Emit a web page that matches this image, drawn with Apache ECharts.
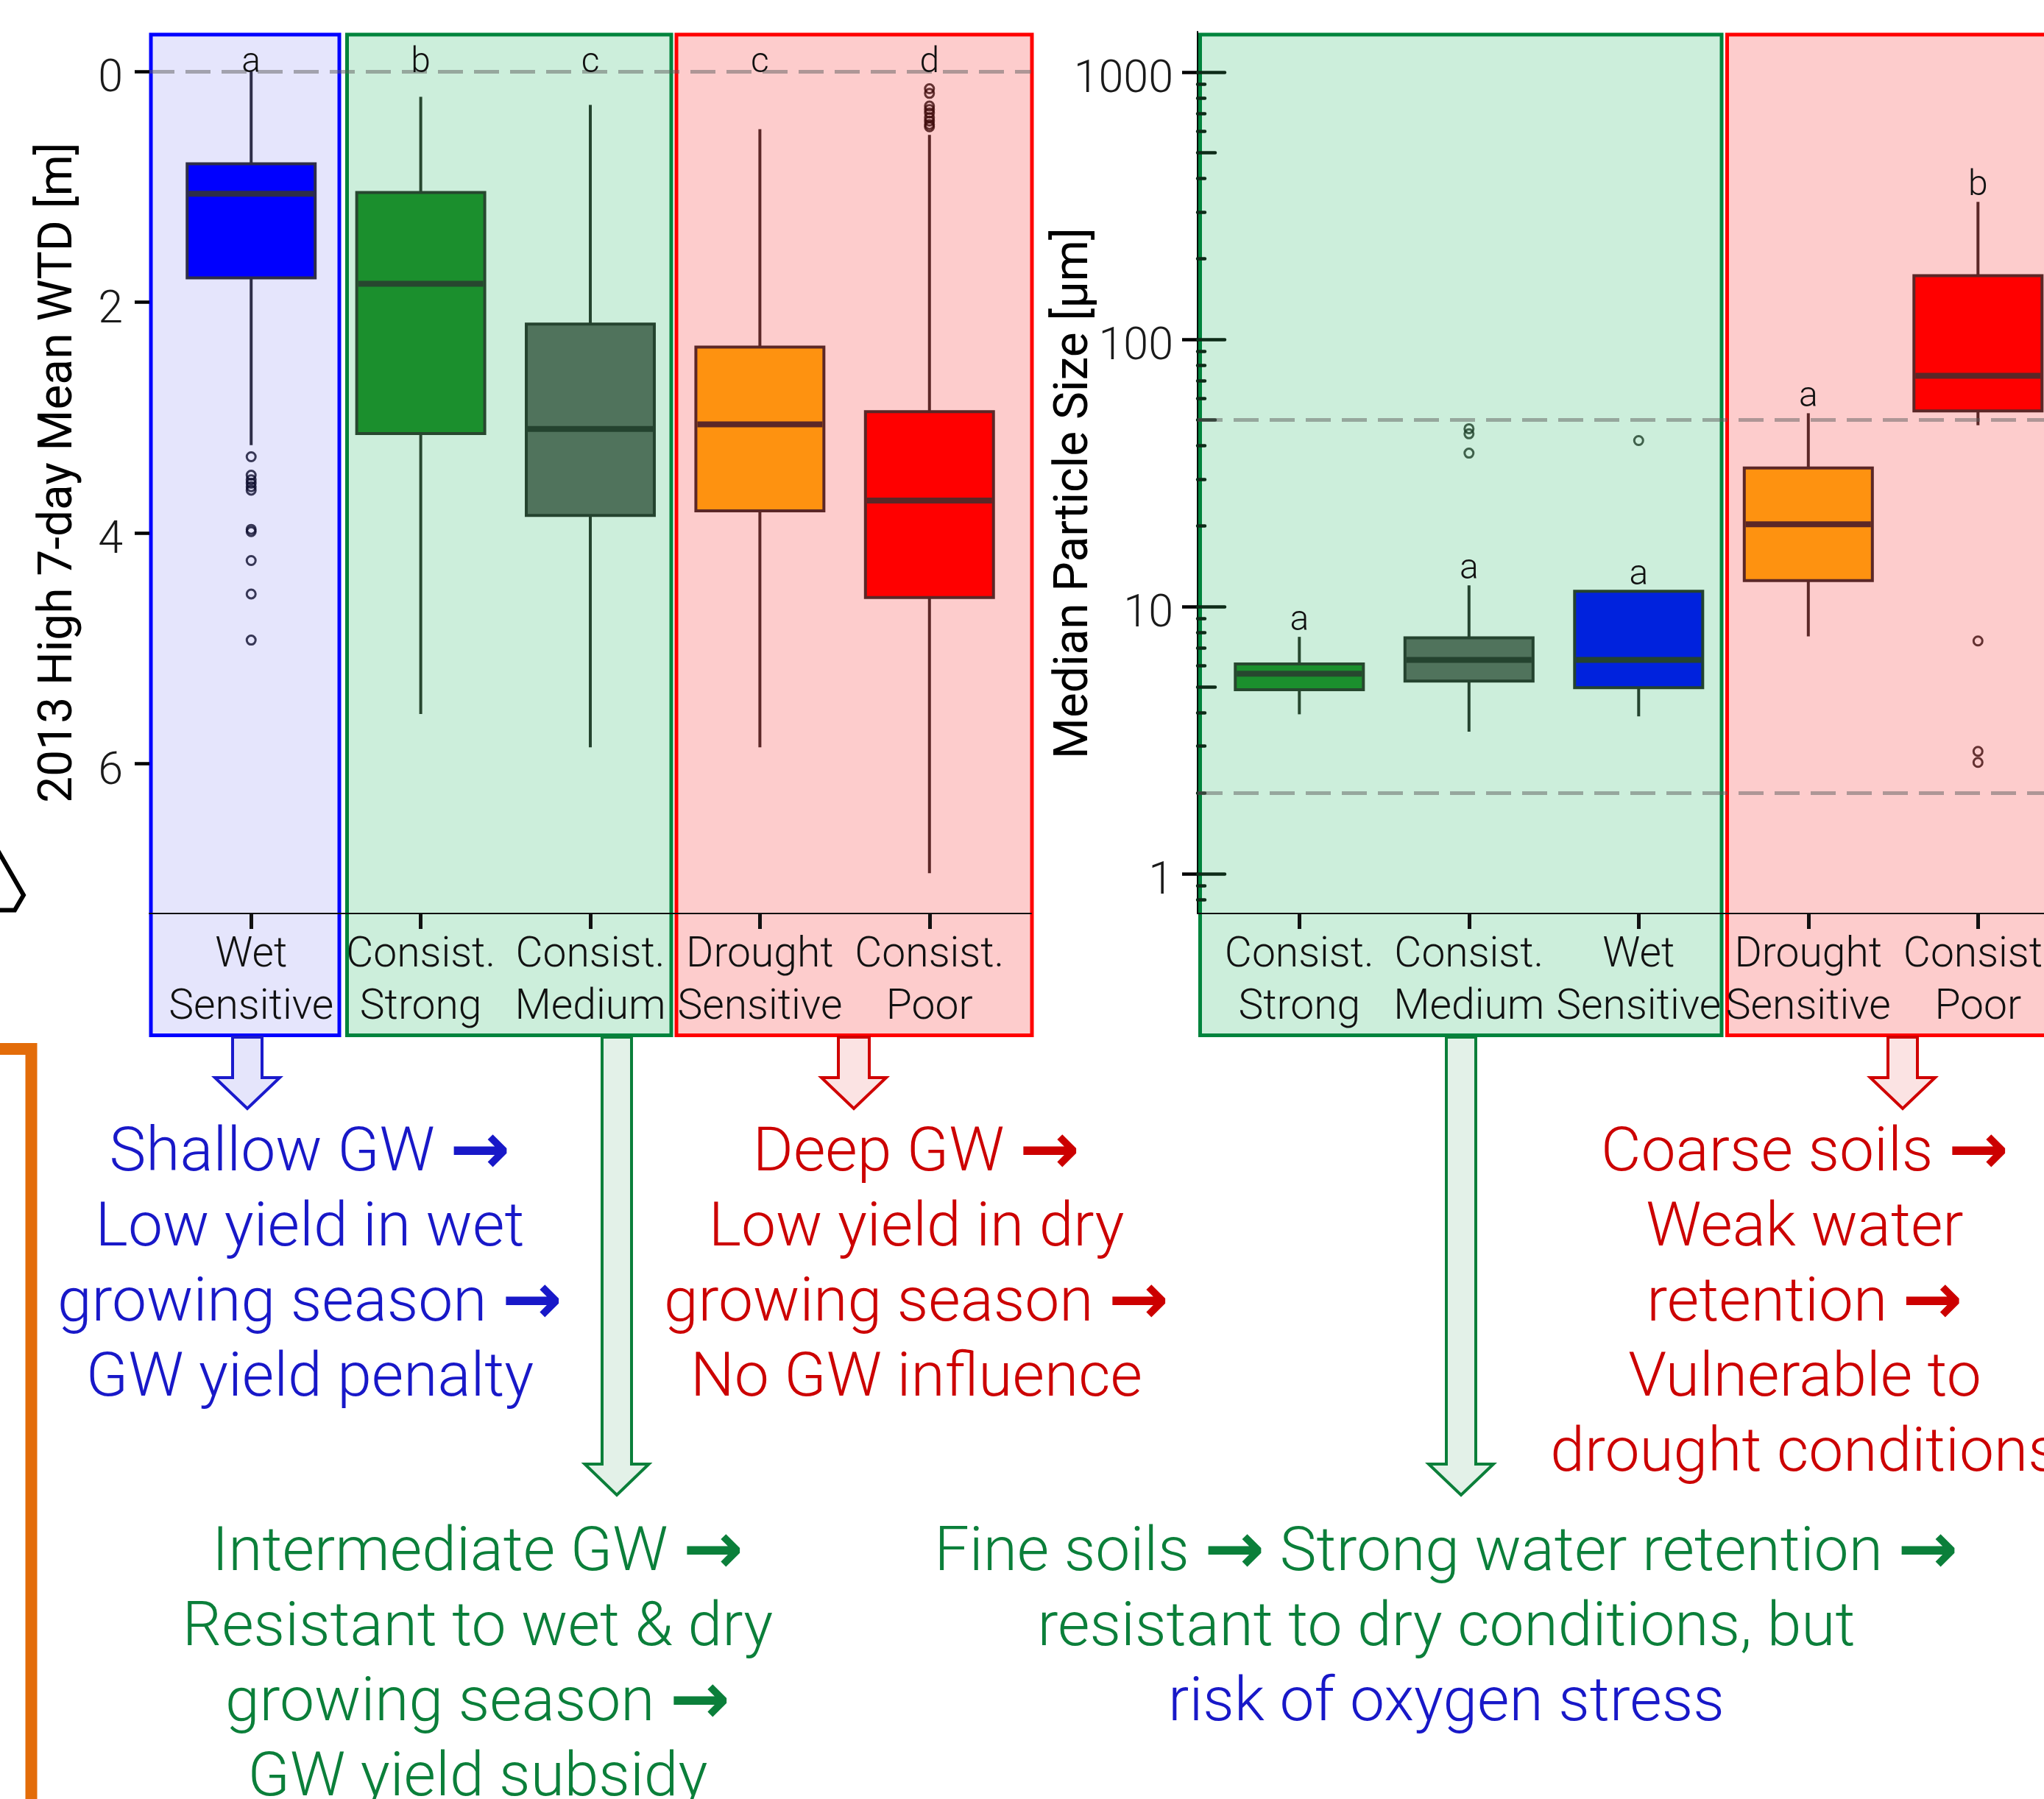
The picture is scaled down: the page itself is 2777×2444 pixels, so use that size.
<!DOCTYPE html>
<html>
<head>
<meta charset="utf-8">
<script src="https://cdn.jsdelivr.net/npm/echarts@6/dist/echarts.min.js"></script>
<style>
html,body{margin:0;padding:0;background:#fff;}
#chart{width:2777px;height:2444px;}
</style>
</head>
<body>
<div id="chart"></div>
<script>
// ---------------- DATA ----------------
// Left panel: 2013 High 7-day Mean WTD [m]
const wtdCategories = ['Wet\nSensitive', 'Consist.\nStrong', 'Consist.\nMedium', 'Drought\nSensitive', 'Consist.\nPoor'];
const wtdLow    = [0.00, 0.22, 0.29, 0.50, 0.55];
const wtdQ1     = [0.80, 1.05, 2.19, 2.39, 2.95];
const wtdMedian = [1.06, 1.84, 3.10, 3.06, 3.72];
const wtdQ3     = [1.79, 3.14, 3.85, 3.81, 4.56];
const wtdHigh   = [3.24, 5.57, 5.86, 5.86, 6.95];
const wtdOutliersWet  = [3.34, 3.50, 3.54, 3.57, 3.60, 3.63, 3.97, 3.99, 4.24, 4.53, 4.93];
const wtdOutliersPoor = [0.15, 0.19, 0.30, 0.33, 0.36, 0.40, 0.43, 0.46, 0.48];
const wtdLetters = ['a', 'b', 'c', 'c', 'd'];
const wtdTicks = [0, 2, 4, 6];
const wtdReference = [0];

// Right panel: Median Particle Size [µm]
const psCategories = ['Consist.\nStrong', 'Consist.\nMedium', 'Wet\nSensitive', 'Drought\nSensitive', 'Consist.\nPoor'];
const psLow    = [3.95, 3.40, 3.88, 7.73, 47.7];
const psQ1     = [4.88, 5.26, 4.97, 12.5, 54.0];
const psMedian = [5.60, 6.31, 6.31, 20.3, 73.0];
const psQ3     = [6.10, 7.64, 11.4, 33.0, 173];
const psHigh   = [7.70, 12.0, 11.4, 52.9, 327];
const psOutliersMedium = [46.3, 44.3, 37.5];
const psOutliersWet    = [41.8];
const psOutliersPoor   = [7.43, 2.87, 2.61];
const psLetters = ['a', 'a', 'a', 'a', 'b'];
const psTicks = [1, 10, 100, 1000];
const psMidTicks = [5, 50, 500];
const psMinorTicks = [0.8, 0.9, 2, 3, 4, 6, 7, 8, 9, 20, 30, 40, 60, 70, 80, 90, 200, 300, 400, 600, 700, 800, 900];
const psReference = [50, 2];

// ---------------- STYLE ----------------
const wtdFill = ['#0000ff', '#1b8f2d', '#50735c', '#fe9210', '#ff0000'];
const wtdLine = ['#2e2e48', '#27472f', '#24432f', '#5b2727', '#5b2727'];
const psFill  = ['#1b8f2d', '#50735c', '#0022dd', '#fe9210', '#ff0000'];
const psLine  = ['#27472f', '#24432f', '#24432f', '#5b2727', '#5b2727'];
const FONT = 'Roboto';
const BLUE_T = '#1818c8', RED_T = '#cc0000', GREEN_T = '#0b7f3a';

function boxData(low, q1, med, q3, high) {
  return low.map((v, i) => [i + 1, low[i], q1[i], med[i], q3[i], high[i]]);
}
function boxRenderer(fills, lines) {
  return function (params, api) {
    const x = api.value(0);
    const i = params.dataIndex;
    const pLow = api.coord([x, api.value(1)]);
    const pQ1 = api.coord([x, api.value(2)]);
    const pMed = api.coord([x, api.value(3)]);
    const pQ3 = api.coord([x, api.value(4)]);
    const pHigh = api.coord([x, api.value(5)]);
    const w = api.size([0.755, 0], [x, 1])[0];
    const cx = pMed[0];
    const yTop = Math.min(pQ1[1], pQ3[1]);
    const yBot = Math.max(pQ1[1], pQ3[1]);
    return {
      type: 'group',
      children: [
        { type: 'line', shape: { x1: cx, y1: pLow[1], x2: cx, y2: pQ1[1] }, style: { stroke: lines[i], lineWidth: 4 } },
        { type: 'line', shape: { x1: cx, y1: pQ3[1], x2: cx, y2: pHigh[1] }, style: { stroke: lines[i], lineWidth: 4 } },
        { type: 'rect', shape: { x: cx - w / 2, y: yTop, width: w, height: yBot - yTop }, style: { fill: fills[i], stroke: lines[i], lineWidth: 4 } },
        { type: 'line', shape: { x1: cx - w / 2 + 2, y1: pMed[1], x2: cx + w / 2 - 2, y2: pMed[1] }, style: { stroke: lines[i], lineWidth: 8 } }
      ]
    };
  };
}
function letterRenderer(letters, dy) {
  return function (params, api) {
    const p = api.coord([api.value(0), api.value(1)]);
    return {
      type: 'text', x: p[0], y: p[1] + dy,
      style: { text: letters[params.dataIndex], fill: '#111', font: '300 48px ' + FONT, align: 'center', verticalAlign: 'bottom' }
    };
  };
}
function outlierSeries(xi, yi, catIndex, values, color) {
  return {
    type: 'scatter', xAxisIndex: xi, yAxisIndex: yi, z: 4,
    symbol: 'circle', symbolSize: 12,
    itemStyle: { color: 'rgba(0,0,0,0)', borderColor: color, borderWidth: 3 },
    data: values.map(v => [catIndex, v])
  };
}
function refLineSeries(xi, yi, values) {
  return {
    type: 'line', xAxisIndex: xi, yAxisIndex: yi, z: 1, data: [], silent: true,
    markLine: {
      silent: true, symbol: ['none', 'none'], label: { show: false },
      lineStyle: { color: 'rgba(95,95,95,0.5)', width: 5, type: [34, 15] },
      data: values.map(v => ({ yAxis: v }))
    }
  };
}
function xAxisDef(grid, cats) {
  return {
    gridIndex: grid, type: 'value', min: 0.4, max: 5.6,
    axisLine: { onZero: false, lineStyle: { color: '#111', width: 2 } },
    axisTick: { customValues: [1, 2, 3, 4, 5], length: 21, lineStyle: { color: '#111', width: 5 } },
    axisLabel: {
      customValues: [1, 2, 3, 4, 5], formatter: v => cats[Math.round(v) - 1],
      fontFamily: FONT, fontWeight: 300, fontSize: 57, lineHeight: 71, color: '#111', margin: 22
    },
    splitLine: { show: false }
  };
}
function logTickAxis(values, len, inside, color) {
  return {
    gridIndex: 1, type: 'log', min: 0.7096, max: 1418, position: 'left',
    axisLine: { show: false, onZero: false },
    axisTick: { customValues: values, inside: inside, length: len, lineStyle: { color: color, width: 4.5, cap: 'round' } },
    axisLabel: { show: false }, splitLine: { show: false }
  };
}
function downArrow(cx, sHalf, hHalf, yTop, headTop, tip, fill, stroke) {
  return {
    type: 'polygon', z: 10,
    shape: { points: [[cx - sHalf, yTop], [cx + sHalf, yTop], [cx + sHalf, headTop], [cx + hHalf, headTop], [cx, tip], [cx - hHalf, headTop], [cx - sHalf, headTop]] },
    style: { fill: fill, stroke: stroke, lineWidth: 4, lineJoin: 'miter' }
  };
}
function panel(x1, x2, fill, stroke) {
  return { type: 'rect', z: -5, shape: { x: x1, y: 47, width: x2 - x1, height: 1359.5 }, style: { fill: fill, stroke: stroke, lineWidth: 5 } };
}
function textBlock(cx, top, text, color) {
  return {
    type: 'text', z: 10, x: cx, y: top,
    style: {
      text: text, fill: color, fontFamily: FONT, fontWeight: 300, fontSize: 84, lineHeight: 102,
      align: 'center', verticalAlign: 'top',
      rich: {
        a: { fill: color, fontFamily: 'Roboto, DejaVu Sans', fontWeight: 700, fontSize: 98, lineHeight: 102 },
        b: { fill: BLUE_T, fontFamily: FONT, fontWeight: 300, fontSize: 84, lineHeight: 102 }
      }
    }
  };
}
const yLabelStyle = { fontFamily: FONT, fontWeight: 300, fontSize: 61, color: '#1a1a1a', verticalAlign: 'top', lineHeight: 24 };

const chart = echarts.init(document.getElementById('chart'), null, { renderer: 'canvas' });

const option = {
  backgroundColor: '#ffffff',
  animation: false,
  grid: [
    { left: 203, top: 43, width: 1198, height: 1198, outerBoundsMode: 'none', containLabel: false },
    { left: 1627, top: 43, width: 1198.6, height: 1198, outerBoundsMode: 'none', containLabel: false }
  ],
  xAxis: [xAxisDef(0, wtdCategories), xAxisDef(1, psCategories)],
  yAxis: [
    {
      gridIndex: 0, type: 'value', inverse: true, min: -0.345, max: 7.3,
      axisLine: { show: false, onZero: false },
      axisTick: { customValues: wtdTicks, length: 20, lineStyle: { color: '#000', width: 4.5 } },
      axisLabel: Object.assign({ customValues: wtdTicks, margin: 36 }, yLabelStyle),
      splitLine: { show: false },
      name: '2013 High 7-day Mean WTD [m]', nameLocation: 'middle', nameGap: 90, nameMoveOverlap: false,
      nameTextStyle: { fontFamily: FONT, fontWeight: 400, fontSize: 64, color: '#000' }
    },
    {
      gridIndex: 1, type: 'log', min: 0.7096, max: 1418, position: 'left',
      axisLine: { show: true, onZero: false, lineStyle: { color: '#000', width: 2 } },
      axisTick: { customValues: psTicks, length: 21, lineStyle: { color: '#000', width: 4.5 } },
      axisLabel: Object.assign({ customValues: psTicks, formatter: v => String(v), margin: 33 }, yLabelStyle),
      splitLine: { show: false },
      name: 'Median Particle Size [µm]', nameLocation: 'middle', nameGap: 134, nameMoveOverlap: false,
      nameTextStyle: { fontFamily: FONT, fontWeight: 400, fontSize: 64, color: '#000', padding: [0, 56, 0, 0] }
    },
    logTickAxis(psTicks, 37, true, '#0d2b18'),
    logTickAxis(psMidTicks, 24, true, '#0d2b18'),
    logTickAxis(psMinorTicks, 10, true, '#0d2b18')
  ],
  series: [
    refLineSeries(0, 0, wtdReference),
    refLineSeries(1, 1, psReference),
    {
      type: 'custom', name: 'WTD', xAxisIndex: 0, yAxisIndex: 0, z: 3,
      renderItem: boxRenderer(wtdFill, wtdLine),
      encode: { x: 0, y: [1, 2, 3, 4, 5] },
      data: boxData(wtdLow, wtdQ1, wtdMedian, wtdQ3, wtdHigh)
    },
    {
      type: 'custom', name: 'Particle size', xAxisIndex: 1, yAxisIndex: 1, z: 3,
      renderItem: boxRenderer(psFill, psLine),
      encode: { x: 0, y: [1, 2, 3, 4, 5] },
      data: boxData(psLow, psQ1, psMedian, psQ3, psHigh)
    },
    outlierSeries(0, 0, 1, wtdOutliersWet, '#0b0b2c'),
    outlierSeries(0, 0, 5, wtdOutliersPoor, '#3d0a0a'),
    outlierSeries(1, 1, 2, psOutliersMedium, '#1c3d27'),
    outlierSeries(1, 1, 3, psOutliersWet, '#1c3d27'),
    outlierSeries(1, 1, 5, psOutliersPoor, '#3d0a0a'),
    {
      type: 'custom', xAxisIndex: 0, yAxisIndex: 0, z: 5,
      renderItem: letterRenderer(wtdLetters, 13),
      data: wtdLetters.map((l, i) => [i + 1, wtdReference[0]])
    },
    {
      type: 'custom', xAxisIndex: 1, yAxisIndex: 1, z: 5,
      renderItem: letterRenderer(psLetters, 3),
      data: psHigh.map((v, i) => [i + 1, v])
    }
  ],
  graphic: {
    elements: [
      panel(205, 461, '#e5e5fc', '#0000ff'),
      panel(471.5, 912, '#cceedb', '#00843d'),
      panel(919, 1402, '#fdcccc', '#ff0000'),
      panel(1630.5, 2339, '#cceedb', '#00843d'),
      panel(2346.5, 2800, '#fdcccc', '#ff0000'),
      downArrow(336, 20, 44, 1409, 1464, 1506, '#e5e5fb', '#1a1acc'),
      downArrow(838, 20, 43.5, 1409, 1989, 2031, '#e3f1e8', '#0b7f3a'),
      downArrow(1160, 21, 44, 1409, 1464, 1506, '#fbe3e3', '#d00000'),
      downArrow(1985, 20, 44, 1409, 1989, 2031, '#e3f1e8', '#0b7f3a'),
      downArrow(2585, 20, 44, 1409, 1464, 1506, '#fbe3e3', '#d00000'),
      { type: 'polyline', z: 10, shape: { points: [[0, 1425], [42.5, 1425], [42.5, 2460]] }, style: { fill: null, stroke: '#e36c09', lineWidth: 16, lineJoin: 'miter' } },
      { type: 'polyline', z: 10, shape: { points: [[-6, 1150], [32, 1216], [20, 1236.5], [-6, 1236.5]] }, style: { fill: null, stroke: '#000', lineWidth: 6, lineJoin: 'miter' } },
      textBlock(421, 1518, 'Shallow GW {a|→}\nLow yield in wet\ngrowing season {a|→}\nGW yield penalty', BLUE_T),
      textBlock(1245, 1518, 'Deep GW {a|→}\nLow yield in dry\ngrowing season {a|→}\nNo GW influence', RED_T),
      textBlock(649, 2061, 'Intermediate GW {a|→}\nResistant to wet & dry\ngrowing season {a|→}\nGW yield subsidy', GREEN_T),
      textBlock(2452, 1518, 'Coarse soils {a|→}\nWeak water\nretention {a|→}\nVulnerable to\ndrought conditions', RED_T),
      textBlock(1965, 2061, 'Fine soils {a|→} Strong water retention {a|→}\nresistant to dry conditions, but\n{b|risk of oxygen stress}', GREEN_T)
    ]
  }
};
chart.setOption(option);
</script>
</body>
</html>
